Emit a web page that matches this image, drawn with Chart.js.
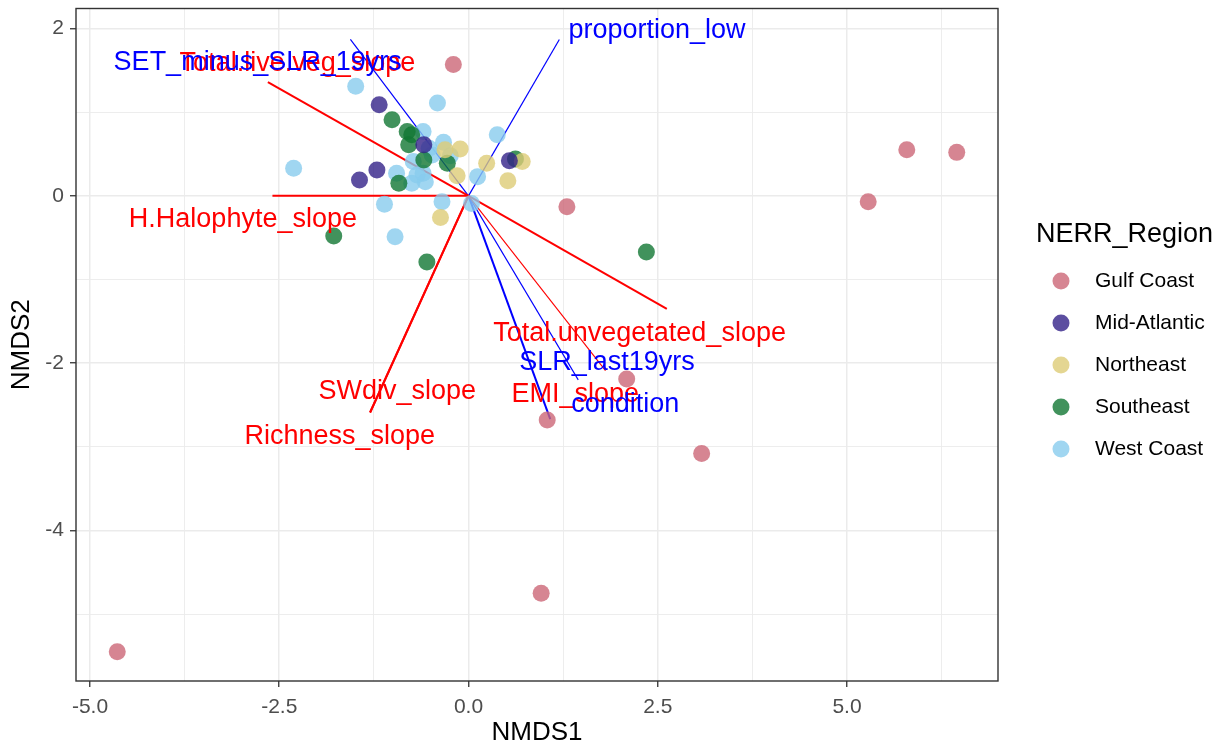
<!DOCTYPE html>
<html>
<head>
<meta charset="utf-8">
<script src="https://cdn.jsdelivr.net/npm/chart.js@4.4.1/dist/chart.umd.min.js"></script>
<style>
  html, body { margin: 0; padding: 0; background: #ffffff; }
  #wrap { width: 1221px; height: 747px; position: relative; }
</style>
</head>
<body>
<div id="wrap"><canvas id="nmds"></canvas></div>
<script>
// ---- NMDS site scores by NERR region ----
const regions = ['Gulf Coast', 'Mid-Atlantic', 'Northeast', 'Southeast', 'West Coast'];

const gulfCoastX   = [-0.20, 1.30, 2.09, 1.04, 0.96, 3.08, 5.28, 5.79, 6.45, -4.64];
const gulfCoastY   = [ 1.57, -0.13, -2.19, -2.68, -4.75, -3.08, -0.07, 0.55, 0.52, -5.45];

const midAtlanticX = [-1.18, -0.59, -1.21, -1.44, 0.54];
const midAtlanticY = [ 1.09,  0.61,  0.31,  0.19, 0.42];

const northeastX   = [-0.31, -0.11, -0.15, 0.24, 0.71, 0.52, -0.37];
const northeastY   = [ 0.55,  0.56,  0.24, 0.39, 0.41, 0.18, -0.26];

const southeastX   = [-1.01, -0.81, -0.75, -0.79, -0.28, -0.59, -0.92, 0.62, -1.78, -0.55, 2.35];
const southeastY   = [ 0.91,  0.77,  0.73,  0.61,  0.39,  0.43,  0.15, 0.44, -0.48, -0.79, -0.67];

const westCoastX   = [-1.49, -0.41, -0.60, -0.33, -0.52, -0.24, -0.48, -0.73, -0.60, -0.95, -0.75, -0.68, -0.57, 0.38, 0.12, -2.31, -1.11, -0.35, 0.04, -0.97];
const westCoastY   = [ 1.31,  1.11,  0.77,  0.64,  0.57,  0.48,  0.49,  0.41,  0.27,  0.27,  0.15,  0.25,  0.17, 0.73, 0.23,  0.33, -0.10, -0.07, -0.09, -0.49];

// ---- fitted vectors: response slopes (red) ----
const slopeNames  = ['Total.live.veg_slope', 'H.Halophyte_slope', 'Total.unvegetated_slope', 'EMI_slope', 'SWdiv_slope', 'Richness_slope'];
const slopeX      = [-2.65, -2.59,  2.62,  1.81, -1.30, -1.30];
const slopeY      = [ 1.36,  0.00, -1.35, -2.09, -2.59, -2.59];
const slopeLabelX = [-2.26, -2.98,  2.26,  1.41, -0.94, -1.70];
const slopeLabelY = [ 1.58, -0.28, -1.65, -2.38, -2.34, -2.88];

// ---- fitted vectors: site drivers (blue) ----
const driverNames  = ['SET_minus_SLR_19yrs', 'proportion_low', 'SLR_last19yrs', 'condition'];
const driverX      = [-1.56, 1.20,  1.45,  1.08];
const driverY      = [ 1.87, 1.87, -2.20, -2.67];
const driverLabelX = [-2.785, 2.49, 1.83, 2.07];
const driverLabelY = [ 1.59, 1.98, -1.99, -2.49];

// ---- axis breaks ----
const xMajorTicks = [-5, -2.5, 0, 2.5, 5];
const xMinorTicks = [-3.75, -1.25, 1.25, 3.75, 6.25];
const yMajorTicks = [-4, -2, 0, 2];
const yMinorTicks = [-5, -3, -1, 1];

// ---- styling ----
const regionColors = [
  'rgba(204,102,119,0.8)',
  'rgba(51,34,136,0.8)',
  'rgba(221,204,119,0.8)',
  'rgba(17,119,51,0.8)',
  'rgba(136,204,238,0.8)'
];
const slopeWidths  = [2, 2, 2, 1.1, 2, 2];
const driverWidths = [1.2, 1.2, 1.1, 2];
const FONT = '"Liberation Sans", Arial, Helvetica, sans-serif';

const regionXs = [gulfCoastX, midAtlanticX, northeastX, southeastX, westCoastX];
const regionYs = [gulfCoastY, midAtlanticY, northeastY, southeastY, westCoastY];

function toPoints(xs, ys) { return xs.map((x, i) => ({ x: x, y: ys[i] })); }

const datasets = [];
regions.forEach((name, i) => {
  datasets.push({
    type: 'scatter',
    label: name,
    data: toPoints(regionXs[i], regionYs[i]),
    backgroundColor: regionColors[i],
    borderWidth: 0,
    pointRadius: 8.5,
    pointHoverRadius: 8.5,
    order: 0,
    isRegion: true
  });
});
slopeNames.forEach((name, i) => {
  datasets.push({
    type: 'line',
    label: name,
    data: [{ x: 0, y: 0 }, { x: slopeX[i], y: slopeY[i] }],
    borderColor: '#ff0000',
    borderWidth: slopeWidths[i],
    pointRadius: 0,
    fill: false,
    order: 1,
    vecLabel: { text: name, x: slopeLabelX[i], y: slopeLabelY[i], color: '#ff0000' }
  });
});
driverNames.forEach((name, i) => {
  datasets.push({
    type: 'line',
    label: name,
    data: [{ x: 0, y: 0 }, { x: driverX[i], y: driverY[i] }],
    borderColor: '#0000ff',
    borderWidth: driverWidths[i],
    pointRadius: 0,
    fill: false,
    order: 1,
    vecLabel: { text: name, x: driverLabelX[i], y: driverLabelY[i], color: '#0000ff' }
  });
});

// vector labels and panel border
const vectorLabels = {
  id: 'vectorLabels',
  afterDatasetsDraw(chart) {
    const { ctx, scales: { x, y }, chartArea } = chart;
    ctx.save();
    ctx.font = '27px ' + FONT;
    ctx.textAlign = 'center';
    ctx.textBaseline = 'middle';
    chart.data.datasets.forEach(ds => {
      if (!ds.vecLabel) return;
      ctx.fillStyle = ds.vecLabel.color;
      ctx.fillText(ds.vecLabel.text, x.getPixelForValue(ds.vecLabel.x), y.getPixelForValue(ds.vecLabel.y));
    });
    ctx.strokeStyle = '#333333';
    ctx.lineWidth = 1.4;
    ctx.strokeRect(chartArea.left, chartArea.top, chartArea.right - chartArea.left, chartArea.bottom - chartArea.top);
    ctx.restore();
  }
};

// region legend on the right
const regionLegend = {
  id: 'regionLegend',
  afterDraw(chart) {
    const { ctx } = chart;
    ctx.save();
    ctx.fillStyle = '#000000';
    ctx.textAlign = 'left';
    ctx.textBaseline = 'middle';
    ctx.font = '27px ' + FONT;
    ctx.fillText('NERR_Region', 1036, 235);
    ctx.font = '21px ' + FONT;
    const items = chart.data.datasets.filter(d => d.isRegion);
    items.forEach((ds, i) => {
      const cy = 281 + 42 * i;
      ctx.beginPath();
      ctx.arc(1061, cy, 8.5, 0, Math.PI * 2);
      ctx.fillStyle = ds.backgroundColor;
      ctx.fill();
      ctx.fillStyle = '#000000';
      ctx.fillText(ds.label, 1095, cy);
    });
    ctx.restore();
  }
};

function isMajor(list, v) { return list.some(t => Math.abs(t - v) < 1e-9); }

new Chart(document.getElementById('nmds'), {
  data: { datasets: datasets },
  plugins: [vectorLabels, regionLegend],
  options: {
    responsive: true,
    maintainAspectRatio: false,
    animation: false,
    events: [],
    layout: { padding: { left: 0, top: 6.5, right: 223, bottom: 0 } },
    plugins: { legend: { display: false }, tooltip: { enabled: false } },
    scales: {
      x: {
        type: 'linear',
        min: -5.185,
        max: 6.995,
        afterBuildTicks(scale) {
          scale.ticks = xMajorTicks.concat(xMinorTicks).sort((a, b) => a - b).map(v => ({ value: v }));
        },
        afterFit(scale) {
          scale.height = 66;
          scale.paddingLeft = 0;
          scale.paddingRight = 0;
        },
        ticks: {
          autoSkip: false,
          maxRotation: 0,
          padding: 8,
          color: '#4d4d4d',
          font: { family: FONT, size: 21 },
          callback: v => isMajor(xMajorTicks, v) ? v.toFixed(1) : ''
        },
        grid: {
          color: '#ebebeb',
          lineWidth: c => isMajor(xMajorTicks, c.tick.value) ? 1.5 : 0.9,
          tickColor: c => isMajor(xMajorTicks, c.tick.value) ? '#333333' : 'rgba(0,0,0,0)',
          tickLength: 6,
          tickWidth: 1.3
        },
        border: { display: false },
        title: {
          display: true,
          text: 'NMDS1',
          color: '#000000',
          font: { family: FONT, size: 26, lineHeight: 1 },
          padding: { top: 0, bottom: 1 }
        }
      },
      y: {
        type: 'linear',
        min: -5.80,
        max: 2.24,
        afterBuildTicks(scale) {
          scale.ticks = yMajorTicks.concat(yMinorTicks).sort((a, b) => a - b).map(v => ({ value: v }));
        },
        afterFit(scale) {
          scale.width = 76;
          scale.paddingTop = 0;
          scale.paddingBottom = 0;
        },
        ticks: {
          autoSkip: false,
          padding: 6,
          color: '#4d4d4d',
          font: { family: FONT, size: 21 },
          callback: v => isMajor(yMajorTicks, v) ? String(v) : ''
        },
        grid: {
          color: '#ebebeb',
          lineWidth: c => isMajor(yMajorTicks, c.tick.value) ? 1.5 : 0.9,
          tickColor: c => isMajor(yMajorTicks, c.tick.value) ? '#333333' : 'rgba(0,0,0,0)',
          tickLength: 6,
          tickWidth: 1.3
        },
        border: { display: false },
        title: {
          display: true,
          text: 'NMDS2',
          color: '#000000',
          font: { family: FONT, size: 26, lineHeight: 1 },
          padding: { top: 9, bottom: 0 }
        }
      }
    }
  }
});
</script>
</body>
</html>
